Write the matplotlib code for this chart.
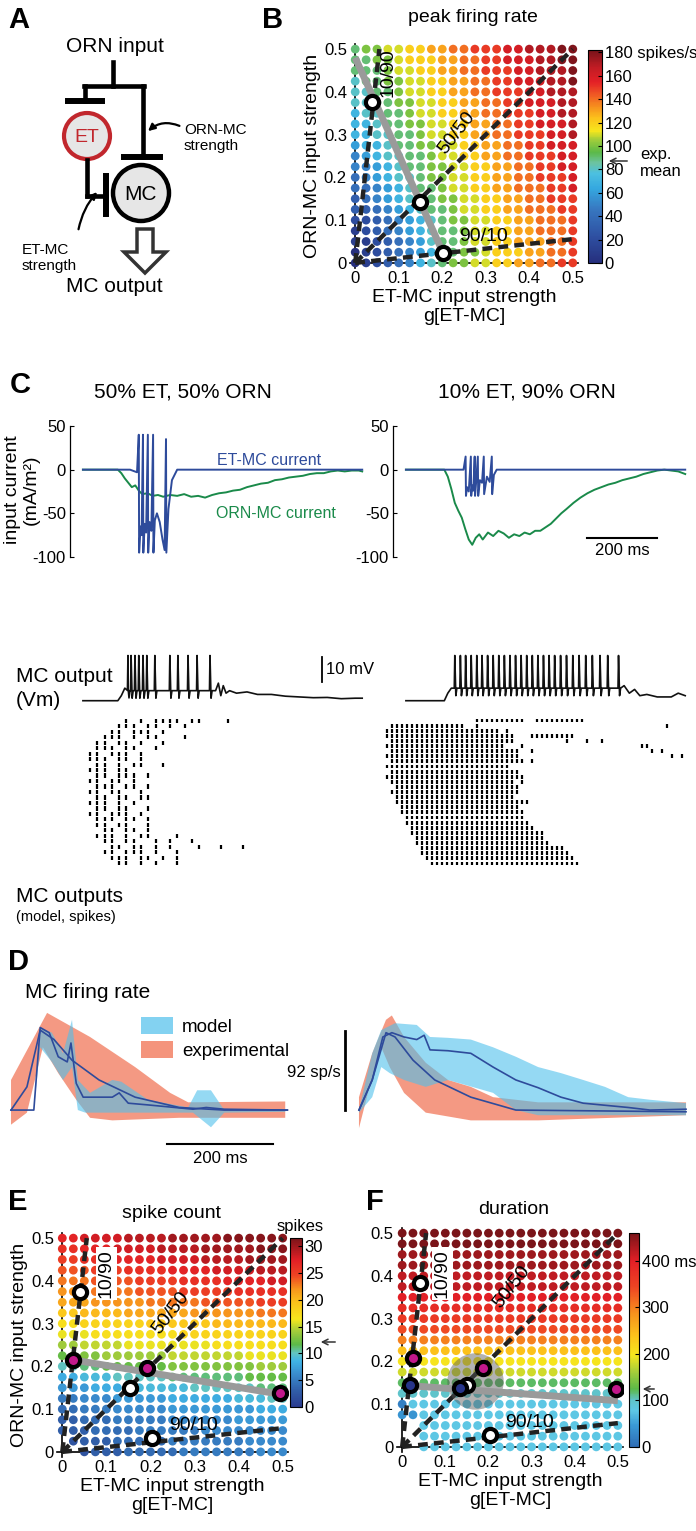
import numpy as np
import matplotlib
matplotlib.use('Agg')
import matplotlib.pyplot as plt
from matplotlib.colors import LinearSegmentedColormap, Normalize
from matplotlib.patches import Circle, Polygon, Patch

plt.rcParams['font.family'] = ['Liberation Sans', 'DejaVu Sans']
plt.rcParams['axes.linewidth'] = 0.9

W, H = 696, 1531

# ---------------- data ----------------
strength = np.round(np.arange(21) * 0.025, 3)   # ET-MC / ORN-MC grid
CODES = '0123456789ABCDEFGHIJKLMNOPQRSTUV'

# peak firing rate, code*10 spikes/s, rows from ORN=0.5 down to 0
rate_rows = [
    "9AABBCCDDEEFFFGGHHHII", "99AABCCCDDEEFFGGGHHII", "999ABBCCDDEEFFFGGHHHI",
    "899AABBCCDDEEFFGGGHHI", "8899ABBCCDDEEFFFGGHHH", "8899AABBCCDDEEFFGGGHH",
    "78899ABBCCDDEEFFFGGHH", "77899AABBCCDDEEFFGGGH", "778899ABBCCDDEEFFFGGH",
    "677899AABBCCDDEEFFGGG", "5678899ABBCCDDEEFFFGG", "5567899AABBCCDDEEFFGG",
    "4567889AABBCCDDEEFFFG", "44567899ABBCCDDEEEFFG", "34567889AABBCCDDEEFFF",
    "334567899ABBCCDDEEEFF", "223456789AABBCCDDEEEF", "1234567899ABBCCDDEEEF",
    "1123456899ABBCCDDDEEF", "0123456789AABCCCDDEEF", "012345789AABBCCDDEEFF",
]
# spike count, code*1 spikes
count_rows = [
    "RRSSSSTTTTUUUUUVVVVVV", "QQRRRSSSSTTTTUUUUUVVV", "PPQQQRRRRSSSSTTTTUUUU",
    "OOOPPPQQQQRRRRSSSSTTT", "NNNOOOOPPPPQQQQRRRRSS", "MMMNNNNOOOOPPPPPQQQQQ",
    "LLLMMMMMNNNNNOOOOOPPP", "JJKKKKLLLLLLMMMMMMNNN", "HHIIIIIIJJJJJJKKKKKKK",
    "GGGHHHHHHHHIIIIIIIIII", "EEFFFFGGGGGGGGHHHHHHH", "CDDDEEEEEEFFFFFFFGGGG",
    "AABBCCCCCCDDDDDDDDEEE", "88999AAAAABBBBBBBCCCC", "777888899999AAAAAABBB",
    "5566677777888888999AA", "445556666677777777888", "334445555566666677777",
    "333444455555566666666", ".23334444455555556666", "..2333444445555555666",
]
# duration, code*20 ms
dur_rows = [
    "NNNNNNNNNNNNNNNNNNNNN", "NNNNNNNNNNNNNNNNNNNNN", "MMMMMMMMMMMMMMMMMMMMM",
    "MMMMMMMMMMMMMMMMMMMMM", "LLLLLLLLLLLLLLLLLLLLL", "LLLLLLLLLLLLLLLLLLLLL",
    "KKKKKKKKKKKKKKKKKKKKK", "JJJJJJJJJJJJJJJJJJJJJ", "IIIIIIIIIIIIIIIIIIIII",
    "HHHHHHHHHHHHHHHHHHHHH", "FFFFFFFFFFFFFFFFFFFFF", "CCCCCCCCCCCCCCCCCCCCC",
    "AAAAAAAAAAAAAAAAAAAAA", "999999999999999999999", "666666666666666666666",
    "555555555555555555555", "144444444444444444444", "224444444444444444444",
    "..4444444444444444444", "..4444444444444444444", "..4444444444444444444",
]

# operating points (ET-MC, ORN-MC)
B_open = ([0.039, 0.149, 0.202], [0.376, 0.143, 0.023])
B_grey = ([0.0, 0.202], [0.48, 0.023])
E_open = ([0.041, 0.154, 0.203], [0.374, 0.150, 0.033])
E_mag = ([0.025, 0.192, 0.493], [0.215, 0.196, 0.138])
E_grey = ([0.025, 0.493], [0.215, 0.135])
F_open = ([0.042, 0.150, 0.204], [0.383, 0.145, 0.028])
F_mag = ([0.025, 0.1875, 0.495], [0.208, 0.185, 0.135])
F_blue = ([0.0185, 0.134], [0.145, 0.138])
F_grey = ([0.02, 0.5], [0.143, 0.108])
F_cloud = (0.17, 0.153)
ratios = {'10/90': (0.1, 0.9), '50/50': (0.5, 0.5), '90/10': (0.9, 0.1)}

# panel C currents (ms, mA/m2)
etL_t = [0, 135, 155, 160, 161, 165, 168, 172, 173, 177, 181, 186, 187, 191, 196, 201, 202, 206, 212, 220,
         228, 234, 238, 239, 245, 255, 270, 800]
etL_i = [0, 0, -3, 40, -95, -65, -75, 40, -95, -62, -72, 40, -95, -60, -70, 40, -95, -58, -50, -60,
         -80, -92, 35, -95, -45, -12, 0, 0]
ornL_t = [0, 100, 110, 120, 130, 140, 150, 160, 170, 185, 200, 215, 230, 250, 270, 290, 310, 330, 350, 370,
          390, 410, 430, 450, 470, 490, 510, 530, 550, 570, 590, 610, 630, 650, 670, 690, 710, 730, 750, 770,
          790, 800]
ornL_i = [0, 0, -4, -10, -15, -20, -18, -24, -28, -27, -30, -29, -31, -29, -30, -28, -31, -30, -32, -29,
          -27, -26, -24, -23, -20, -18, -16, -15, -12, -11, -9, -8, -7, -5, -4, -4, -2, -1, -2, -1,
          -1, -2]
etR_t = [0, 165, 171, 172, 175, 180, 186, 187, 190, 193, 197, 198, 201, 206, 207, 212, 218, 223, 224, 232,
         240, 246, 247, 252, 260, 800]
etR_i = [0, 0, 15, -30, -20, -25, 15, -30, -18, -24, 15, -30, -15, 15, -30, -12, -15, 15, -28, -8,
         -14, 15, -28, -6, 0, 0]
ornR_t = [0, 110, 120, 130, 140, 150, 160, 170, 180, 190, 200, 210, 220, 235, 250, 265, 280, 295, 310, 325,
          340, 355, 370, 385, 400, 415, 430, 445, 460, 480, 500, 520, 540, 560, 580, 600, 620, 640, 660, 680,
          700, 720, 740, 760, 780, 800]
ornR_i = [0, 0, -8, -22, -38, -47, -55, -68, -80, -86, -78, -74, -80, -72, -76, -70, -73, -78, -74, -76,
          -72, -74, -70, -70, -66, -62, -56, -50, -45, -38, -32, -27, -23, -20, -17, -15, -12, -10, -8, -5,
          -3, -1, 0, -1, -2, -5]

# panel C membrane potential: subthreshold anchors (ms, mV) and spike times (ms)
vmL_t = [0, 100, 110, 120, 130, 380, 388, 395, 402, 410, 420, 440, 470, 500, 540, 580, 620, 660, 700, 740, 780, 800]
vmL_v = [0, 0, 2, 5, 4, 4, 7, 2, 6, 3, 4, 3, 3.5, 2.5, 2.5, 1.8, 1.5, 1.2, 1.3, 0.8, 1.0, 1.0]
spkL = [129, 138, 149, 160, 172, 183, 206, 249, 272, 301, 327, 364]
vmR_t = [0, 110, 120, 130, 615, 625, 640, 655, 670, 690, 720, 760, 780, 800]
vmR_v = [0, 0, 3, 5, 5, 6, 3, 4.5, 2, 2.5, 1.5, 1.5, 3, 2]
spkR = [140, 156, 171, 187, 203, 218, 234, 250, 266, 282, 298, 314, 330, 346, 362, 378, 394, 410, 426, 443,
        460, 478, 496, 515, 534, 556, 578, 609]

# rasters: one row per trial, '|' = spike in a time bin
rasterL = [
    "       | | |||| ||   |      |",
    "      ||| || | |",
    "     || ||| |",
    "    ||| | ||   |",
    "   || || |  |",
    "   ||| ||  |",
    "  || ||| |",
    "  ||| || |",
    "   || | ||  |",
    "  ||| ||",
    "   || ||| |",
    "  || || |",
    "   ||| || |",
    "  || ||  |",
    "   || || ||",
    "  ||| | |",
    "   || ||  |",
    "  || ||| |",
    "   ||| || |",
    "   || ||  |",
    "    || || |",
    "   ||| | ||   |",
    "    || ||  | |  |",
    "     || || | |   |  |  |",
    "    || ||| |  |",
    "     ||| || | |",
    "      || | |  |",
]
rasterR = [
    "                   ||||||||||  ||||||||||",
    "  |||||||||||||||  |                                     |",
    " ||||||||||||||||||||||| |",
    " ||||||||||||||||||||||||||   |||||||||",
    "  |||||||||||||||||||||||||          |   |  |",
    " ||||||||||||||||||||||||   |                       ||",
    "  ||||||||||||||||||||||||||  |                       | |",
    " |||||||||||||||||||||||||||                              | |",
    "  ||||||||||||||||||||||||||| |",
    " |||||||||||||||||||||||||",
    "  ||||||||||||||||||||||||||",
    " ||||||||||||||||||||||||||||",
    "  ||||||||||||||||||||||||| |",
    "   |||||||||||||||||||||||||",
    "  ||||||||||||||||||||||||||",
    "   ||||||||||||||||||||||||",
    "   |||||||||||||||||||||||||||",
    "    ||||||||||||||||||||||||",
    "    |||||||||||||||||||||||||",
    "     ||||||||||||||||||||||||",
    "     |||||||||||||||||||||||||",
    "      |||||||||||||||||||||||||",
    "      |||||||||||||||||||||||||||",
    "       ||||||||||||||||||||||||||",
    "       |||||||||||||||||||||||||||",
    "        |||||||||||||||||||||||||||||",
    "        ||||||||||||||||||||||||||||||",
    "         ||||||||||||||||||||||||||||||",
    "          ||||||||||||||||||||||||||||||",
]

# panel D firing rate (ms, spikes/s)
expL_up_t = [0, 68, 149, 234, 300, 334, 517]
expL_up = [35, 113, 85, 50, 20, 9, 10]
expL_lo_t = [0, 30, 60, 89, 123, 149, 191, 317, 517]
expL_lo = [-17, -3, 73, 43, 12, -9, -12, -9, -9]
modL_up_t = [0, 43, 55, 77, 98, 115, 126, 149, 191, 208, 258, 334, 351, 377, 402, 517]
modL_up = [0, 0, 96, 90, 66, 105, 35, 20, 35, 33, 12, 3, 23, 23, 0, 0]
modL_lo_t = [0, 43, 55, 77, 98, 115, 126, 140, 234, 343, 377, 402, 517]
modL_lo = [0, 0, 73, 56, 35, 50, 0, -3, -3, -3, -20, -3, -2]
modL_t = [0, 43, 55, 72, 89, 106, 113, 123, 136, 191, 204, 221, 258, 343, 368, 402, 521]
modL = [0, 0, 96, 90, 62, 56, 78, 31, 15, 15, 20, 8, 6, 1, 3, 1, 0]
expL_t = [0, 30, 55, 81, 115, 166, 234, 317, 402, 521]
expL = [0, 27, 93, 82, 58, 35, 15, 3, 0, 0]

expR_up_t = [0, 25, 51, 62, 85, 126, 168, 211, 253, 338, 617]
expR_up = [15, 66, 105, 110, 85, 55, 35, 27, 15, 9, 9]
expR_lo_t = [0, 17, 42, 58, 85, 126, 211, 338, 617]
expR_lo = [-21, 20, 73, 50, 20, -3, -12, -12, -6]
modR_up_t = [0, 25, 42, 68, 109, 134, 168, 211, 253, 296, 338, 381, 423, 464, 508, 549, 617]
modR_up = [0, 66, 93, 101, 99, 85, 84, 82, 73, 62, 50, 43, 35, 27, 15, 12, 8]
modR_lo_t = [0, 25, 42, 58, 85, 126, 168, 253, 296, 338, 423, 617]
modR_lo = [-3, 15, 50, 43, 35, 27, 35, 20, 0, -6, -6, -6]
modR_t = [0, 25, 45, 62, 85, 109, 123, 134, 168, 211, 253, 296, 338, 381, 423, 508, 549, 617]
modR = [0, 35, 85, 90, 85, 82, 87, 70, 69, 66, 50, 35, 26, 15, 8, 3, 0, 1]
expR_t = [0, 25, 51, 68, 102, 143, 211, 296, 617]
expR = [0, 35, 90, 85, 58, 35, 15, 0, -2]

# ---------------- colours ----------------
cmap_B = LinearSegmentedColormap.from_list('rate', [
    (0.0, '#262f7d'), (0.12, '#2e4fa1'), (0.25, '#3777c0'), (0.35, '#35a8e0'), (0.42, '#4cc0e0'),
    (0.47, '#6cc3a0'), (0.52, '#5bb947'), (0.58, '#a2cd3a'), (0.62, '#f6e61d'), (0.68, '#fcc21b'),
    (0.73, '#f7941d'), (0.79, '#f05a24'), (0.85, '#e42026'), (0.92, '#c11c24'), (1.0, '#78131a')])
cmap_E = LinearSegmentedColormap.from_list('count', [
    (0.0, '#2b3c90'), (0.1, '#3160aa'), (0.2, '#3a8fd0'), (0.27, '#3fb4e6'), (0.32, '#62c4c0'),
    (0.37, '#5cb947'), (0.45, '#a5cd3a'), (0.52, '#f6e61d'), (0.62, '#fcc21b'), (0.7, '#f7941d'),
    (0.78, '#ee4423'), (0.87, '#e21f26'), (1.0, '#7a1419')])
cmap_F = LinearSegmentedColormap.from_list('dur', [
    (0.0, '#2f6db5'), (0.1, '#3a9ad6'), (0.17, '#5ec7e6'), (0.22, '#5fc4c8'), (0.27, '#5cb947'),
    (0.35, '#a5cd3a'), (0.43, '#f6e61d'), (0.52, '#fcc21b'), (0.62, '#f7941d'), (0.75, '#ee4423'),
    (0.87, '#e21f26'), (1.0, '#7a1419')])
ET_BLUE = '#2e4b9b'
ORN_GREEN = '#1a8a4a'
MAGENTA = '#c2188b'

fig = plt.figure(figsize=(W / 100, H / 100), dpi=100)


def px_rect(x0, y0, x1, y1):
    return [x0 / W, 1 - y1 / H, (x1 - x0) / W, (y1 - y0) / H]


def decode(rows, unit):
    vals = np.full((21, 21), np.nan)
    for i, row in enumerate(rows):
        for j, ch in enumerate(row[:21]):
            if ch in CODES:
                vals[20 - i, j] = CODES.index(ch) * unit
    return vals


def dot_panel(rect, rows, unit, cmap, vmax, open_pts, grey, labels, boxed,
              mag_pts=None, blue_pts=None, cloud=None, ylabel=True):
    ax = fig.add_axes(px_rect(*rect))
    vals = decode(rows, unit)
    gx, gy = np.meshgrid(strength, strength)
    ok = ~np.isnan(vals)
    ax.scatter(gx[ok], gy[ok], c=vals[ok], cmap=cmap, vmin=0, vmax=vmax, s=40, lw=0, zorder=2)
    ax.set_xlim(-0.012, 0.512)
    ax.set_ylim(-0.012, 0.512)
    for s in ['top', 'right']:
        ax.spines[s].set_visible(False)
    for s in ['left', 'bottom']:
        ax.spines[s].set_position(('data', 0))
        ax.spines[s].set_zorder(1)
        ax.spines[s].set_linewidth(1.2)
    ticks = [0, 0.1, 0.2, 0.3, 0.4, 0.5]
    tlab = ['0', '0.1', '0.2', '0.3', '0.4', '0.5']
    ax.set_xticks(ticks, tlab)
    ax.set_yticks(ticks, tlab)
    ax.tick_params(length=0, labelsize=12, pad=6)
    # ratio lines
    for name, (fe, fo) in ratios.items():
        k = 0.5 / max(fe, fo)
        ax.plot([0, fe * k], [0, fo * k], color='#222222', lw=3.2, ls=(0, (2.2, 1.4)),
                zorder=3, solid_capstyle='butt')
    if cloud is not None:
        ax.scatter([cloud[0]], [cloud[1]], s=1650, color='#555555', alpha=0.45, lw=0, zorder=4)
    ax.plot(grey[0], grey[1], color='#9a9a9a', lw=5, zorder=4, solid_capstyle='butt')
    ax.plot(open_pts[0], open_pts[1], 'o', ms=9.5, mfc='white', mec='black', mew=3, zorder=6)
    if mag_pts is not None:
        ax.plot(mag_pts[0], mag_pts[1], 'o', ms=9.5, mfc=MAGENTA, mec='black', mew=3, zorder=6)
    if blue_pts is not None:
        ax.plot(blue_pts[0], blue_pts[1], 'o', ms=9.5, mfc='#27358a', mec='black', mew=3, zorder=6)
    for txt, x, y, rot in labels:
        bb = dict(fc='white', ec='none', pad=1.5) if (boxed and txt == '10/90') else None
        ax.text(x, y, txt, rotation=rot, fontsize=14, ha='center', va='center', zorder=7, bbox=bb)
    if ylabel:
        ax.set_ylabel('ORN-MC input strength', fontsize=14, labelpad=2)
    ax.set_xlabel('ET-MC input strength\ng[ET-MC]', fontsize=14, labelpad=2, linespacing=1.15)
    return ax


def colorbar(rect, cmap, vmax, ticks, labels):
    cax = fig.add_axes(px_rect(*rect))
    sm = plt.cm.ScalarMappable(norm=Normalize(0, vmax), cmap=cmap)
    cb = fig.colorbar(sm, cax=cax)
    cb.set_ticks(ticks, labels=labels)
    cax.tick_params(labelsize=12, length=3, direction='in', pad=2)
    cb.outline.set_linewidth(0.8)
    return cax


# ---------------- B ----------------
dot_panel((350, 44, 578, 268), rate_rows, 10, cmap_B, 182, B_open, B_grey,
          [('10/90', 0.076, 0.444, 90), ('50/50', 0.234, 0.304, 52), ('90/10', 0.294, 0.062, 0)], False)
colorbar((588, 50, 602, 263), cmap_B, 182, list(range(0, 181, 20)),
         ['0', '20', '40', '60', '80', '100', '120', '140', '160', '180 spikes/s'])

# ---------------- E ----------------
dot_panel((57, 1233, 288, 1457), count_rows, 1, cmap_E, 31.5, E_open, E_grey,
          [('10/90', 0.10, 0.418, 90), ('50/50', 0.245, 0.325, 52), ('90/10', 0.297, 0.062, 0)], True,
          mag_pts=E_mag)
colorbar((290, 1238, 302, 1407), cmap_E, 31.5, [0, 5, 10, 15, 20, 25, 30],
         ['0', '5', '10', '15', '20', '25', '30'])

# ---------------- F ----------------
dot_panel((397, 1228, 623, 1452), dur_rows, 20, cmap_F, 460, F_open, F_grey,
          [('10/90', 0.093, 0.406, 90), ('50/50', 0.255, 0.375, 52), ('90/10', 0.296, 0.058, 0)], True,
          mag_pts=F_mag, blue_pts=F_blue, cloud=F_cloud, ylabel=False)
colorbar((629, 1233, 639, 1447), cmap_F, 460, [0, 100, 200, 300, 400],
         ['0', '100', '200', '300', '400 ms'])

# ---------------- C currents ----------------
for rect, et, orn in [((70, 426, 365, 557), (etL_t, etL_i), (ornL_t, ornL_i)),
                      ((393, 426, 688, 557), (etR_t, etR_i), (ornR_t, ornR_i))]:
    ax = fig.add_axes(px_rect(*rect))
    ax.plot(orn[0], orn[1], color=ORN_GREEN, lw=1.4)
    ax.plot(et[0], et[1], color=ET_BLUE, lw=1.4)
    ax.set_xlim(-37, 808)
    ax.set_ylim(-100, 50)
    for s in ['top', 'right', 'bottom']:
        ax.spines[s].set_visible(False)
    ax.set_xticks([])
    ax.set_yticks([-100, -50, 0, 50], ['-100', '-50', '0', '50'])
    ax.tick_params(axis='y', labelsize=12, length=3, direction='in', pad=3)
    if rect[0] > 300:
        ax.plot([519, 719], [-78, -78], color='black', lw=1.5, clip_on=False)
        ax.text(619, -93, '200 ms', ha='center', va='center', fontsize=12)
    else:
        ax.text(385, 10, 'ET-MC current', color=ET_BLUE, fontsize=11.5, va='center')
        ax.text(380, -50, 'ORN-MC current', color=ORN_GREEN, fontsize=11.5, va='center')

# ---------------- C membrane potential ----------------
for i, (rect, tt, vv, spk) in enumerate([((70, 648, 365, 712), vmL_t, vmL_v, spkL),
                                          ((393, 648, 688, 712), vmR_t, vmR_v, spkR)]):
    ax = fig.add_axes(px_rect(*rect))
    pts = list(zip(tt, vv))
    for ts in spk:
        base = np.interp(ts, tt, vv)
        pts += [(ts - 1.5, base), (ts, 18.0), (ts + 3.0, base - 3.0), (ts + 6.0, base)]
    pts.sort()
    ax.plot([p[0] for p in pts], [p[1] for p in pts], color='#111111', lw=1.2)
    ax.set_xlim(-37, 808)
    ax.set_ylim(-4.5, 21)
    ax.axis('off')
    if i == 0:
        ax.plot([685, 685], [7.5, 17.5], color='black', lw=1.3)
        ax.text(697, 12.5, '10 mV', fontsize=12, va='center')

# ---------------- C rasters ----------------
for rect, rows, ncol in [((72, 718, 250, 866), rasterL, 24), ((380, 718, 692, 866), rasterR, 62)]:
    ax = fig.add_axes(px_rect(*rect))
    for r, row in enumerate(rows):
        cols = [c for c, ch in enumerate(row) if ch == '|']
        ax.vlines(cols, r - 0.38, r + 0.38, color='black', lw=1.6)
    ax.set_xlim(-0.5, ncol)
    ax.set_ylim(len(rows) - 0.5, -0.5)
    ax.axis('off')

# ---------------- D ----------------
MODEL_C = '#4fc0ec'
EXP_C = '#f4947c'
for rect, xl, ex_up, ex_lo, mo_up, mo_lo, mo, ex in [
        ((8, 1000, 290, 1135), (-5.7, 526), (expL_up_t, expL_up), (expL_lo_t, expL_lo),
         (modL_up_t, modL_up), (modL_lo_t, modL_lo), (modL_t, modL), (expL_t, expL)),
        ((355, 1000, 690, 1135), (-7.5, 624.5), (expR_up_t, expR_up), (expR_lo_t, expR_lo),
         (modR_up_t, modR_up), (modR_lo_t, modR_lo), (modR_t, modR), (expR_t, expR))]:
    ax = fig.add_axes(px_rect(*rect))
    ax.fill(list(ex_up[0]) + list(ex_lo[0])[::-1], list(ex_up[1]) + list(ex_lo[1])[::-1],
            color=EXP_C, lw=0, alpha=0.95)
    ax.fill(list(mo_up[0]) + list(mo_lo[0])[::-1], list(mo_up[1]) + list(mo_lo[1])[::-1],
            color=MODEL_C, lw=0, alpha=0.6)
    ax.plot(ex[0], ex[1], color=ET_BLUE, lw=1.2)
    ax.plot(mo[0], mo[1], color=ET_BLUE, lw=1.2)
    ax.set_xlim(*xl)
    ax.set_ylim(-29, 128)
    ax.axis('off')
    if rect[0] < 100:
        ax.plot([294, 494], [-40, -40], color='black', lw=1.5, clip_on=False)
        ax.text(394, -56, '200 ms', ha='center', va='center', fontsize=12, clip_on=False)
    else:
        ax.plot([-26, -26], [0, 92], color='black', lw=2, clip_on=False)

fig.legend(handles=[Patch(color=MODEL_C, alpha=0.7, lw=0), Patch(color=EXP_C, lw=0)],
           labels=['model', 'experimental'], loc='upper left',
           bbox_to_anchor=(124 / W, 1 - 1000 / H), frameon=False, fontsize=13.5,
           handlelength=1.7, handleheight=1.0, labelspacing=0.3, handletextpad=0.5)

# ---------------- overlay: letters, texts, schematic ----------------
ov = fig.add_axes([0, 0, 1, 1], zorder=10)
ov.set_xlim(0, W)
ov.set_ylim(H, 0)
ov.axis('off')
ov.patch.set_alpha(0)

for letter, x, y in [('A', 8, 20), ('B', 262, 20), ('C', 10, 385), ('D', 8, 962), ('E', 8, 1202), ('F', 366, 1202)]:
    ov.text(x, y, letter, fontsize=21, fontweight='bold', va='center', ha='left')

ov.text(473, 17, 'peak firing rate', fontsize=14, ha='center', va='center')
ov.text(172, 1214, 'spike count', fontsize=14, ha='center', va='center')
ov.text(514, 1210, 'duration', fontsize=14, ha='center', va='center')
ov.text(183, 392, '50% ET, 50% ORN', fontsize=15, ha='center', va='center')
ov.text(527, 392, '10% ET, 90% ORN', fontsize=15, ha='center', va='center')
ov.text(22, 490, 'input current\n(mA/m²)', fontsize=14, rotation=90, ha='center', va='center',
        linespacing=1.1)
ov.text(16, 676, 'MC output', fontsize=15, va='center')
ov.text(16, 701, '(Vm)', fontsize=15, va='center')
ov.text(16, 897, 'MC outputs', fontsize=15, va='center')
ov.text(16, 917, '(model, spikes)', fontsize=10.5, va='center')
ov.text(25, 992, 'MC firing rate', fontsize=15, va='center')
ov.text(314, 1073, '92 sp/s', fontsize=12, ha='center', va='center')

# colourbar side notes
ov.annotate('', xy=(606, 161), xytext=(630, 161),
            arrowprops=dict(arrowstyle='->', lw=1.1, color='#333333'))
ov.text(640, 163, 'exp.\nmean', fontsize=12, va='center', linespacing=1.2)
ov.text(300, 1227, 'spikes', fontsize=12, ha='center', va='center')
ov.annotate('', xy=(318, 1342), xytext=(338, 1342),
            arrowprops=dict(arrowstyle='->', lw=1.1, color='#333333'))
ov.annotate('', xy=(640, 1389), xytext=(657, 1389),
            arrowprops=dict(arrowstyle='->', lw=1.1, color='#333333'))

# schematic A
lw_s = 3.3
ov.text(115, 47, 'ORN input', ha='center', va='center', fontsize=15)
ov.plot([113, 113], [62, 86], 'k', lw=lw_s)
ov.plot([84, 144], [86, 86], 'k', lw=lw_s, solid_capstyle='projecting')
ov.plot([85, 85], [86, 101], 'k', lw=lw_s)
ov.plot([68, 102], [101, 101], 'k', lw=lw_s + 1)
ov.plot([143, 143], [86, 157], 'k', lw=lw_s)
ov.plot([124, 160], [157, 157], 'k', lw=lw_s + 1)
ov.add_patch(Circle((87, 136), 23, fc='#e6e6e6', ec='#c1272d', lw=3))
ov.text(87, 137, 'ET', color='#c1272d', fontsize=14, ha='center', va='center')
ov.add_patch(Circle((141, 193), 28, fc='#e6e6e6', ec='black', lw=3.2))
ov.text(141, 194, 'MC', fontsize=15, ha='center', va='center')
ov.plot([87, 87], [160, 196], 'k', lw=lw_s)
ov.plot([87, 106], [196, 196], 'k', lw=lw_s, solid_capstyle='projecting')
ov.plot([106, 106], [176, 214], 'k', lw=lw_s + 1)
ov.add_patch(Polygon([(137, 229), (153, 229), (153, 252), (166, 252), (145, 273), (124, 252), (137, 252)],
                     closed=True, fc='white', ec='#333333', lw=2.5))
ov.text(114, 287, 'MC output', ha='center', va='center', fontsize=15)
ov.text(184, 138, 'ORN-MC\nstrength', fontsize=11, va='center', linespacing=1.1)
ov.annotate('', xy=(146, 133), xytext=(182, 127),
            arrowprops=dict(arrowstyle='-|>', lw=1.6, color='black', mutation_scale=10,
                            connectionstyle='arc3,rad=0.35'))
ov.text(22, 258, 'ET-MC\nstrength', fontsize=11, va='center', linespacing=1.1)
ov.annotate('', xy=(99, 190), xytext=(78, 232),
            arrowprops=dict(arrowstyle='-|>', lw=1.6, color='black', mutation_scale=10,
                            connectionstyle='arc3,rad=-0.15'))

fig.savefig('out.png', dpi=100)
